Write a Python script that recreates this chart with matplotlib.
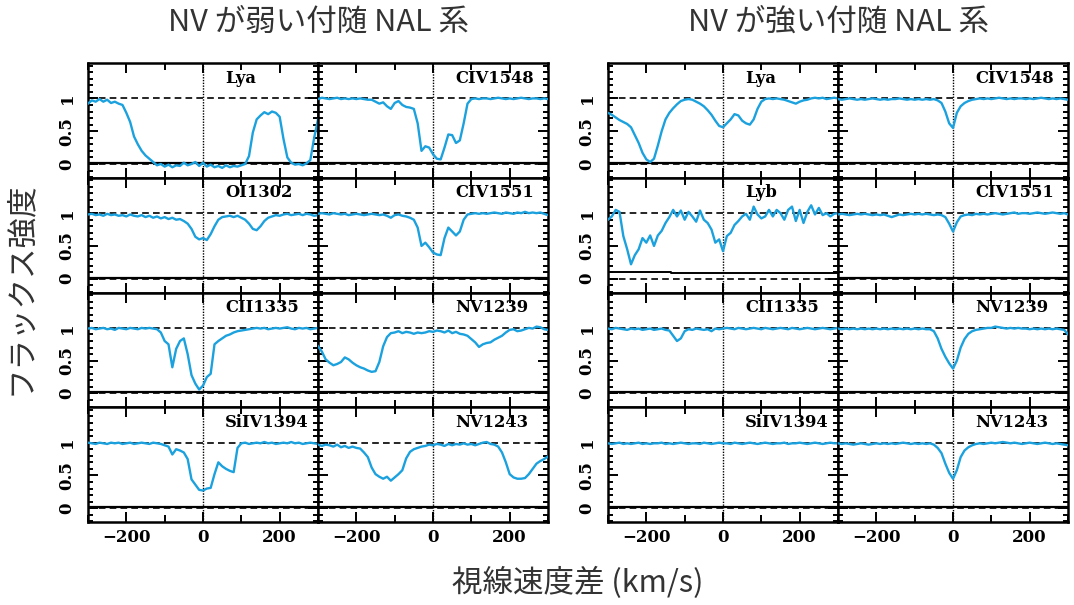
import numpy as np
import matplotlib
matplotlib.use("Agg")
import matplotlib.pyplot as plt
from matplotlib.ticker import MultipleLocator

# --- DONNÉES (flux normalisé, grille en vitesse de 10 km/s) ---
vitesse = np.arange(-300, 301, 10)

# NV faible : colonne gauche
weak_lya = [0.92, 0.97, 0.95, 0.99, 0.95, 0.98, 0.93, 0.95, 0.92, 0.90,
            0.78, 0.64, 0.42, 0.30, 0.20, 0.13, 0.08, 0.03, -0.02, 0.00,
            -0.04, -0.01, -0.05, -0.02, -0.03, 0.02, -0.02, 0.00, 0.03, -0.03,
            0.02, -0.04, -0.01, -0.05, -0.03, -0.06, -0.02, -0.05, -0.03, -0.04,
            -0.02, 0.00, 0.12, 0.48, 0.68, 0.74, 0.79, 0.76, 0.80, 0.78,
            0.72, 0.38, 0.10, 0.02, -0.01, 0.00, -0.02, 0.01, 0.06, 0.40,
            0.68]
weak_oi1302 = [0.98, 0.99, 0.97, 0.98, 0.96, 0.99, 0.97, 0.98, 0.96, 0.97,
               0.95, 0.98, 0.96, 0.95, 0.97, 0.94, 0.96, 0.93, 0.95, 0.92,
               0.94, 0.91, 0.93, 0.90, 0.91, 0.88, 0.84, 0.76, 0.64, 0.60,
               0.62, 0.59, 0.68, 0.80, 0.90, 0.94, 0.95, 0.96, 0.94, 0.96,
               0.93, 0.90, 0.84, 0.76, 0.74, 0.80, 0.88, 0.93, 0.95, 0.97,
               0.96, 0.98, 0.99, 0.97, 0.98, 0.99, 0.97, 0.99, 0.98, 0.96,
               0.97]
weak_cii1335 = [0.99, 1.00, 0.98, 0.99, 1.00, 0.98, 0.99, 0.97, 1.00, 0.99,
                0.98, 1.00, 0.99, 0.98, 1.00, 0.99, 1.00, 0.99, 0.98, 0.93,
                0.80, 0.75, 0.40, 0.68, 0.80, 0.84, 0.60, 0.28, 0.15, 0.06,
                0.12, 0.25, 0.30, 0.75, 0.80, 0.84, 0.88, 0.90, 0.93, 0.95,
                0.96, 0.97, 0.98, 0.99, 1.00, 0.99, 1.00, 0.98, 0.99, 1.00,
                0.99, 1.00, 1.01, 0.99, 0.98, 1.00, 0.99, 1.00, 0.98, 0.99,
                1.00]
weak_siiv1394 = [1.00, 0.99, 0.98, 1.00, 0.99, 0.98, 1.00, 0.99, 1.00, 0.98,
                 0.99, 1.00, 0.98, 0.99, 1.00, 0.99, 0.98, 1.00, 0.99, 0.98,
                 0.96, 0.94, 0.82, 0.90, 0.88, 0.85, 0.75, 0.44, 0.36, 0.28,
                 0.27, 0.30, 0.31, 0.52, 0.70, 0.64, 0.60, 0.57, 0.55, 0.92,
                 0.99, 1.00, 0.98, 0.99, 1.00, 0.99, 1.01, 0.99, 1.00, 0.98,
                 0.99, 1.00, 0.99, 1.01, 0.99, 1.00, 0.98, 0.99, 1.00, 0.99,
                 0.98]
# NV faible : colonne droite
weak_civ1548 = [0.99, 1.01, 1.00, 0.99, 1.00, 1.01, 0.99, 1.00, 0.99, 1.00,
                0.99, 1.00, 0.99, 0.98, 0.98, 0.95, 0.92, 0.94, 0.88, 0.84,
                0.93, 0.96, 0.90, 0.87, 0.86, 0.84, 0.62, 0.20, 0.27, 0.25,
                0.15, 0.08, 0.07, 0.25, 0.45, 0.44, 0.32, 0.36, 0.62, 0.92,
                0.99, 1.00, 0.99, 1.00, 1.00, 0.99, 1.00, 1.01, 1.00, 0.99,
                1.00, 0.99, 1.00, 1.01, 1.00, 0.99, 1.00, 1.00, 0.99, 1.00,
                0.99]
weak_civ1551 = [0.99, 1.00, 0.99, 0.98, 1.00, 0.99, 0.98, 0.99, 0.97, 0.98,
                0.99, 0.98, 0.97, 0.98, 0.99, 0.98, 0.97, 0.98, 0.96, 0.93,
                0.97, 0.98, 0.96, 0.95, 0.93, 0.90, 0.78, 0.50, 0.55, 0.48,
                0.40, 0.37, 0.36, 0.62, 0.78, 0.72, 0.66, 0.72, 0.90, 0.98,
                0.99, 1.00, 0.99, 1.00, 0.99, 1.00, 1.01, 1.00, 0.99, 1.01,
                1.00, 0.99, 1.01, 1.00, 1.02, 1.00, 1.01, 1.00, 1.01, 0.99,
                0.97]
weak_nv1239 = [0.72, 0.64, 0.52, 0.47, 0.43, 0.45, 0.48, 0.55, 0.52, 0.47,
               0.43, 0.40, 0.38, 0.35, 0.33, 0.34, 0.48, 0.72, 0.86, 0.92,
               0.93, 0.95, 0.92, 0.94, 0.93, 0.91, 0.93, 0.92, 0.93, 0.95,
               0.94, 0.96, 0.95, 0.93, 0.96, 0.92, 0.94, 0.91, 0.90, 0.88,
               0.83, 0.78, 0.71, 0.75, 0.77, 0.78, 0.82, 0.85, 0.88, 0.93,
               0.97, 0.98, 0.95, 0.96, 0.98, 1.00, 0.99, 1.02, 1.01, 0.98,
               0.97]
weak_nv1243 = [0.97, 0.95, 0.97, 0.96, 0.94, 0.97, 0.93, 0.95, 0.92, 0.94,
               0.92, 0.91, 0.85, 0.78, 0.62, 0.52, 0.48, 0.45, 0.48, 0.42,
               0.47, 0.52, 0.58, 0.76, 0.86, 0.90, 0.92, 0.94, 0.95, 0.97,
               0.96, 0.98, 0.97, 0.95, 0.98, 0.96, 0.98, 0.97, 0.99, 0.97,
               0.98, 0.96, 0.98, 1.00, 1.01, 0.98, 0.97, 0.94, 0.85, 0.70,
               0.52, 0.47, 0.45, 0.45, 0.46, 0.52, 0.60, 0.68, 0.72, 0.75,
               0.79]

# NV fort : colonne gauche
strong_lya = [0.78, 0.75, 0.71, 0.67, 0.64, 0.61, 0.56, 0.44, 0.32, 0.17,
              0.07, 0.03, 0.08, 0.28, 0.50, 0.68, 0.78, 0.85, 0.91, 0.96,
              0.98, 0.99, 0.98, 0.95, 0.92, 0.88, 0.82, 0.75, 0.66, 0.58,
              0.56, 0.62, 0.68, 0.76, 0.74, 0.66, 0.62, 0.60, 0.68, 0.84,
              0.95, 0.99, 1.00, 0.99, 1.00, 0.99, 0.98, 0.96, 0.94, 0.92,
              0.95, 0.97, 0.98, 1.00, 1.01, 1.00, 1.01, 0.99, 1.00, 1.01,
              1.00]
strong_lyb = [0.90, 0.95, 1.05, 1.02, 0.65, 0.45, 0.22, 0.36, 0.45, 0.62,
              0.55, 0.66, 0.50, 0.66, 0.73, 0.85, 0.94, 1.05, 0.95, 1.04,
              0.90, 1.02, 0.95, 0.87, 1.04, 0.90, 0.85, 0.75, 0.55, 0.60,
              0.42, 0.65, 0.70, 0.82, 0.88, 0.95, 0.99, 0.90, 1.10, 0.98,
              0.92, 0.95, 1.05, 0.95, 1.05, 1.00, 0.90, 1.05, 1.10, 0.88,
              1.05, 0.85, 1.02, 1.12, 0.98, 1.08, 0.97, 1.00, 0.95, 0.99,
              1.00]
strong_lyb_err = [0.10, 0.10, 0.10, 0.10, 0.10, 0.10, 0.10, 0.10, 0.10, 0.10,
                  0.10, 0.10, 0.10, 0.10, 0.10, 0.10, 0.10, 0.08, 0.08, 0.08,
                  0.08, 0.08, 0.08, 0.08, 0.08, 0.08, 0.08, 0.08, 0.08, 0.08,
                  0.08, 0.08, 0.08, 0.08, 0.08, 0.08, 0.08, 0.08, 0.08, 0.08,
                  0.08, 0.08, 0.08, 0.08, 0.08, 0.08, 0.08, 0.08, 0.08, 0.08,
                  0.08, 0.08, 0.08, 0.08, 0.08, 0.08, 0.08, 0.08, 0.08, 0.08,
                  0.08]
strong_cii1335 = [0.99, 0.98, 1.00, 0.99, 0.98, 0.97, 0.99, 0.98, 0.99, 0.97,
                  0.98, 0.99, 0.97, 0.98, 0.99, 0.97, 0.96, 0.88, 0.80, 0.84,
                  0.95, 0.98, 0.97, 0.99, 0.98, 0.97, 0.98, 0.95, 0.99, 0.98,
                  0.99, 1.00, 0.99, 0.98, 1.00, 0.99, 0.98, 0.99, 1.00, 0.99,
                  0.98, 1.00, 0.99, 0.98, 0.99, 1.00, 0.99, 0.98, 1.00, 0.99,
                  0.98, 0.99, 1.00, 0.99, 0.98, 0.99, 1.00, 0.99, 0.98, 0.99,
                  1.00]
strong_siiv1394 = [0.99, 0.98, 0.99, 1.00, 0.98, 0.99, 0.98, 0.99, 1.00, 0.98,
                   0.99, 0.98, 0.99, 0.99, 1.00, 0.98, 0.99, 0.98, 0.99, 1.00,
                   0.99, 0.98, 0.99, 0.99, 0.98, 1.00, 0.99, 0.98, 0.99, 1.00,
                   0.99, 0.99, 0.98, 1.00, 0.99, 0.98, 0.99, 1.00, 0.99, 0.98,
                   0.99, 1.00, 0.99, 0.98, 0.99, 0.99, 1.00, 0.98, 0.99, 0.99,
                   1.00, 0.99, 0.98, 0.99, 1.00, 0.99, 0.98, 0.99, 1.00, 0.99,
                   0.99]
# NV fort : colonne droite
strong_civ1548 = [0.99, 0.98, 0.99, 1.00, 0.99, 0.98, 0.99, 0.98, 0.99, 1.00,
                  0.99, 0.98, 0.99, 0.98, 0.99, 0.99, 1.00, 0.99, 0.98, 0.99,
                  0.98, 0.99, 0.98, 0.99, 0.98, 0.99, 0.97, 0.93, 0.80, 0.62,
                  0.55, 0.78, 0.88, 0.93, 0.96, 0.98, 0.99, 1.00, 0.99, 1.00,
                  0.99, 1.00, 1.01, 1.00, 0.99, 1.00, 0.99, 1.00, 1.00, 0.99,
                  1.00, 0.99, 1.00, 1.01, 1.00, 0.99, 1.00, 0.99, 1.00, 0.99,
                  0.98]
strong_civ1551 = [0.98, 0.99, 0.98, 0.97, 0.98, 0.99, 0.98, 0.99, 0.98, 0.97,
                  0.98, 0.97, 0.98, 0.96, 0.94, 0.96, 0.98, 0.97, 0.98, 0.99,
                  0.98, 0.99, 0.98, 0.99, 0.98, 0.97, 0.98, 0.97, 0.94, 0.84,
                  0.72, 0.86, 0.95, 0.97, 0.98, 0.97, 0.99, 0.98, 0.99, 0.98,
                  0.99, 1.00, 0.99, 0.98, 0.99, 1.00, 1.01, 0.99, 1.00, 1.00,
                  0.99, 1.00, 1.01, 1.00, 0.99, 1.00, 1.01, 1.00, 0.99, 1.00,
                  0.98]
strong_nv1239 = [0.99, 0.98, 0.99, 0.98, 0.99, 0.98, 0.99, 0.98, 0.99, 0.98,
                 0.99, 0.98, 0.99, 0.98, 0.99, 0.98, 0.99, 0.98, 0.99, 0.98,
                 0.99, 0.98, 0.99, 0.98, 0.98, 0.95, 0.84, 0.68, 0.56, 0.46,
                 0.38, 0.50, 0.70, 0.83, 0.91, 0.95, 0.97, 0.98, 0.99, 1.00,
                 1.00, 1.02, 1.01, 1.00, 0.99, 1.00, 0.99, 1.00, 0.99, 0.99,
                 0.98, 0.99, 0.98, 0.99, 0.98, 0.99, 0.98, 0.99, 0.98, 0.97,
                 0.90]
strong_nv1243 = [0.99, 0.98, 0.99, 0.98, 0.97, 0.98, 0.99, 0.98, 0.97, 0.98,
                 0.99, 0.98, 0.99, 0.98, 0.99, 0.98, 0.99, 1.00, 0.99, 0.98,
                 0.99, 0.98, 0.99, 0.98, 0.99, 0.97, 0.92, 0.84, 0.68, 0.54,
                 0.45, 0.58, 0.78, 0.88, 0.93, 0.96, 0.98, 0.99, 0.98, 0.99,
                 1.00, 0.99, 1.00, 1.01, 1.00, 0.99, 1.00, 0.99, 0.98, 0.99,
                 1.00, 0.99, 0.98, 0.99, 1.00, 0.99, 0.98, 0.99, 0.98, 0.97,
                 0.96]

titres = ["NV が弱い付随 NAL 系", "NV が強い付随 NAL 系"]
noms_gauche = [["Lya", "OI1302", "CII1335", "SiIV1394"],
               ["Lya", "Lyb", "CII1335", "SiIV1394"]]
noms_droite = ["CIV1548", "CIV1551", "NV1239", "NV1243"]
ticks_x = [-200, 0, 200]
labels_x = ["\u2212200", "0", "200"]
ticks_y = [0, 0.5, 1]
labels_y = ["0", "0.5", "1"]

spectres = [
    [[weak_lya, weak_oi1302, weak_cii1335, weak_siiv1394],
     [weak_civ1548, weak_civ1551, weak_nv1239, weak_nv1243]],
    [[strong_lya, strong_lyb, strong_cii1335, strong_siiv1394],
     [strong_civ1548, strong_civ1551, strong_nv1239, strong_nv1243]],
]

BLEU = "#1ba1de"
JP = ["Noto Sans CJK JP", "DejaVu Sans"]

# --- FIGURE ---
W, H = 1074, 605
fig = plt.figure(figsize=(W / 100, H / 100), dpi=100)

x_groupes = [88, 608]
largeur = 230
haut0, hauteur = 63, 114.75

for g in range(2):
    for c in range(2):
        for r in range(4):
            x0 = x_groupes[g] + c * largeur
            y0 = haut0 + (r + 1) * hauteur
            ax = fig.add_axes([x0 / W, 1 - y0 / H, largeur / W, hauteur / H])
            flux = spectres[g][c][r]
            ax.plot(vitesse, flux, color=BLEU, lw=1.7, zorder=3)

            # spectre d'erreur
            if g == 1 and c == 0 and r == 1:
                ax.plot(vitesse, strong_lyb_err, color="black", lw=1.4,
                        drawstyle="steps-mid", zorder=2)
            else:
                ax.axhline(0.015, color="black", lw=1.6, zorder=2)

            ax.axhline(1, color="black", lw=1.2, ls=(0, (4, 2.5)), zorder=2)
            ax.axhline(0, color="black", lw=1.2, ls=(0, (4, 2.5)), zorder=2)
            ax.axvline(0, color="black", lw=1.0, ls=(0, (1, 1)), zorder=2)

            ax.set_xlim(-300, 300)
            ax.set_ylim(-0.21, 1.54)
            ax.set_xticks(ticks_x)
            ax.xaxis.set_minor_locator(MultipleLocator(100))
            ax.set_yticks(ticks_y)
            ax.yaxis.set_minor_locator(MultipleLocator(0.1))

            for s in ax.spines.values():
                s.set_linewidth(1.8)
            ax.tick_params(which="both", direction="in", top=True, right=True, width=1.4)
            ax.tick_params(which="major", length=7)
            ax.tick_params(axis="x", which="minor", length=5)
            ax.tick_params(axis="y", which="minor", length=3.5)

            if r == 3:
                ax.set_xticklabels(labels_x, fontfamily="DejaVu Serif",
                                   fontweight="bold", fontsize=12)
                ax.tick_params(axis="x", pad=5)
            else:
                ax.tick_params(axis="x", labelbottom=False)
            if c == 0:
                ax.set_yticklabels(labels_y, fontfamily="DejaVu Serif",
                                   fontweight="bold", fontsize=12, rotation=90, va="center")
                ax.tick_params(axis="y", pad=9)
            else:
                ax.tick_params(axis="y", labelleft=False)

            nom = noms_gauche[g][r] if c == 0 else noms_droite[r]
            ax.text(58, 1.31, nom, ha="left", va="center", fontfamily="DejaVu Serif",
                    fontweight="bold", fontsize=11.8, zorder=4)

# titres et axes
for g in range(2):
    xc = (x_groupes[g] + largeur) / W
    fig.text(xc, 1 - 22 / H, titres[g], ha="center", va="center",
             fontsize=22, color="#333333", family=JP)

fig.text(578 / W, 1 - 583 / H, "視線速度差 (km/s)", ha="center", va="center",
         fontsize=22, color="#333333", family=JP)
fig.text(20 / W, 1 - 288 / H, "フラックス強度", ha="center", va="center",
         rotation=90, fontsize=22, color="#333333", family=JP)

fig.savefig("out.png", dpi=100)
